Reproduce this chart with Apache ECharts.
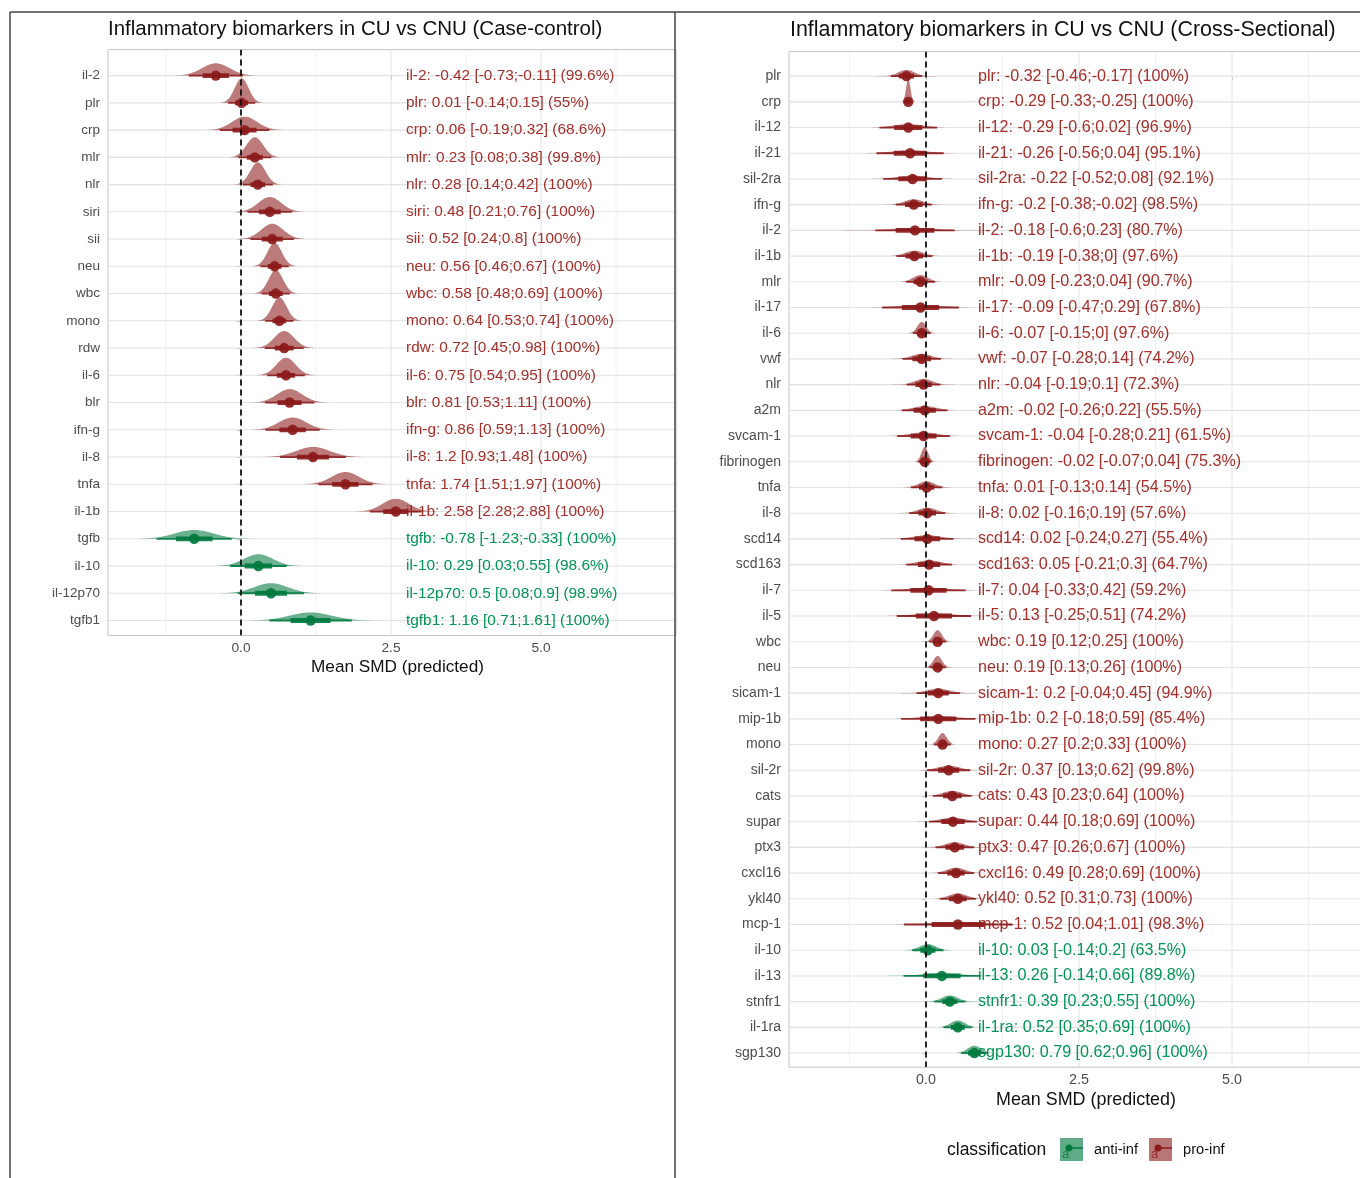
<!DOCTYPE html>
<html><head><meta charset="utf-8">
<script src="https://cdn.jsdelivr.net/npm/echarts@6/dist/echarts.min.js"></script>
<style>html,body{margin:0;padding:0;background:#fff}#c{width:1360px;height:1178px}</style>
</head><body><div id="c"></div>
<script>
// ---------- Case-control panel ----------
const ccNames = ['il-2','plr','crp','mlr','nlr','siri','sii','neu','wbc','mono','rdw','il-6','blr','ifn-g','il-8','tnfa','il-1b','tgfb','il-10','il-12p70','tgfb1'];
const ccMean = [-0.42,0.01,0.06,0.23,0.28,0.48,0.52,0.56,0.58,0.64,0.72,0.75,0.81,0.86,1.2,1.74,2.58,-0.78,0.29,0.5,1.16];
const ccLo = [-0.73,-0.14,-0.19,0.08,0.14,0.21,0.24,0.46,0.48,0.53,0.45,0.54,0.53,0.59,0.93,1.51,2.28,-1.23,0.03,0.08,0.71];
const ccHi = [-0.11,0.15,0.32,0.38,0.42,0.76,0.8,0.67,0.69,0.74,0.98,0.95,1.11,1.13,1.48,1.97,2.88,-0.33,0.55,0.9,1.61];
const ccProb = [99.6,55,68.6,99.8,100,100,100,100,100,100,100,100,100,100,100,100,100,100,98.6,98.9,100];
const ccClass = ['pro','pro','pro','pro','pro','pro','pro','pro','pro','pro','pro','pro','pro','pro','pro','pro','pro','anti','anti','anti','anti'];
// spread of the predicted distribution, read from the drawn slabs/intervals
const ccPredSd = [0.23,0.115,0.21,0.14,0.127,0.19,0.185,0.12,0.12,0.12,0.165,0.16,0.21,0.23,0.28,0.23,0.22,0.32,0.24,0.28,0.35];

// ---------- Cross-sectional panel ----------
const csNames = ['plr','crp','il-12','il-21','sil-2ra','ifn-g','il-2','il-1b','mlr','il-17','il-6','vwf','nlr','a2m','svcam-1','fibrinogen','tnfa','il-8','scd14','scd163','il-7','il-5','wbc','neu','sicam-1','mip-1b','mono','sil-2r','cats','supar','ptx3','cxcl16','ykl40','mcp-1','il-10','il-13','stnfr1','il-1ra','sgp130'];
const csMean = [-0.32,-0.29,-0.29,-0.26,-0.22,-0.2,-0.18,-0.19,-0.09,-0.09,-0.07,-0.07,-0.04,-0.02,-0.04,-0.02,0.01,0.02,0.02,0.05,0.04,0.13,0.19,0.19,0.2,0.2,0.27,0.37,0.43,0.44,0.47,0.49,0.52,0.52,0.03,0.26,0.39,0.52,0.79];
const csLo = [-0.46,-0.33,-0.6,-0.56,-0.52,-0.38,-0.6,-0.38,-0.23,-0.47,-0.15,-0.28,-0.19,-0.26,-0.28,-0.07,-0.13,-0.16,-0.24,-0.21,-0.33,-0.25,0.12,0.13,-0.04,-0.18,0.2,0.13,0.23,0.18,0.26,0.28,0.31,0.04,-0.14,-0.14,0.23,0.35,0.62];
const csHi = [-0.17,-0.25,0.02,0.04,0.08,-0.02,0.23,0,0.04,0.29,0,0.14,0.1,0.22,0.21,0.04,0.14,0.19,0.27,0.3,0.42,0.51,0.25,0.26,0.45,0.59,0.33,0.62,0.64,0.69,0.67,0.69,0.73,1.01,0.2,0.66,0.55,0.69,0.96];
const csProb = [100,100,96.9,95.1,92.1,98.5,80.7,97.6,90.7,67.8,97.6,74.2,72.3,55.5,61.5,75.3,54.5,57.6,55.4,64.7,59.2,74.2,100,100,94.9,85.4,100,99.8,100,100,100,100,100,98.3,63.5,89.8,100,100,100];
const csClass = ['pro','pro','pro','pro','pro','pro','pro','pro','pro','pro','pro','pro','pro','pro','pro','pro','pro','pro','pro','pro','pro','pro','pro','pro','pro','pro','pro','pro','pro','pro','pro','pro','pro','pro','anti','anti','anti','anti','anti'];
const csPredSd = [0.13,0.035,0.24,0.28,0.245,0.15,0.33,0.15,0.12,0.32,0.072,0.16,0.14,0.19,0.22,0.055,0.13,0.15,0.22,0.19,0.31,0.31,0.07,0.07,0.18,0.31,0.07,0.18,0.16,0.2,0.16,0.15,0.15,0.45,0.13,0.32,0.13,0.12,0.11];

// ---------- axes ----------
const xTickValues = [0, 2.5, 5];
const xMinorValues = [-1.25, 1.25, 3.75, 6.25];
const legendLabels = ['anti-inf', 'pro-inf'];
const titles = ['Inflammatory biomarkers in CU vs CNU (Case-control)', 'Inflammatory biomarkers in CU vs CNU (Cross-Sectional)'];
const xTitle = 'Mean SMD (predicted)';

const COL = { pro: '#8B1A1A', anti: '#00793F' };
const TXT = { pro: '#A3302B', anti: '#009456' };
const FONT = '"Liberation Sans", Arial, Helvetica, sans-serif';

const chart = echarts.init(document.getElementById('c'), null, { renderer: 'canvas' });

function fmt(v) { return String(v); }

function panelSeries(p, names, mean, lo, hi, prob, cls, sd, labelX, txtSize) {
  const rows = names.map((_, i) => i);
  const sdMin = Math.min.apply(null, sd);
  const series = [];
  series.push({
    type: 'custom', xAxisIndex: p, yAxisIndex: p, z: 1, silent: true, clip: true,
    data: xTickValues.map(v => [v, 1]).concat(xMinorValues.map(v => [v, 0])),
    renderItem: function (params, api) {
      const cs = params.coordSys;
      const x = api.coord([api.value(0), 0])[0];
      const major = api.value(1) === 1;
      return { type: 'line', shape: { x1: x, y1: cs.y, x2: x, y2: cs.y + cs.height },
        style: { stroke: major ? '#e6e6e6' : '#eeeeee', lineWidth: major ? 1.1 : 0.9 } };
    }
  });
  series.push({
    type: 'custom', xAxisIndex: p, yAxisIndex: p, z: 1, silent: true, clip: true,
    data: rows.map(i => [0, i]),
    renderItem: function (params, api) {
      const cs = params.coordSys;
      const y = api.coord([0, api.value(1)])[1];
      return { type: 'line', shape: { x1: cs.x, y1: y, x2: cs.x + cs.width, y2: y },
        style: { stroke: '#e2e2e2', lineWidth: 1.1 } };
    }
  });
  series.push({
    type: 'custom', xAxisIndex: p, yAxisIndex: p, z: 2, silent: true, clip: false,
    data: rows.map(i => [labelX, i]),
    renderItem: function (params, api) {
      const i = params.dataIndex;
      const pt = api.coord([api.value(0), api.value(1)]);
      return { type: 'text', x: pt[0], y: pt[1],
        style: { text: names[i] + ': ' + fmt(mean[i]) + ' [' + fmt(lo[i]) + ';' + fmt(hi[i]) + '] (' + fmt(prob[i]) + '%)',
          fill: TXT[cls[i]], fontSize: txtSize, fontFamily: FONT, align: 'left', verticalAlign: 'middle' } };
    }
  });
  series.push({
    type: 'custom', xAxisIndex: p, yAxisIndex: p, z: 3, silent: true, clip: true,
    data: rows.map(i => [mean[i], i, sd[i]]),
    renderItem: function (params, api) {
      const i = params.dataIndex;
      const m = api.value(0), r = api.value(1), s = api.value(2);
      const col = COL[cls[i]];
      const hMax = 0.9 * sdMin / s;
      const N = 90, pts = [];
      for (let k = 0; k <= N; k++) {
        const z = -3.6 + 7.2 * k / N;
        pts.push(api.coord([m + z * s, r - hMax * Math.exp(-z * z / 2)]));
      }
      pts.push(api.coord([m + 3.6 * s, r]));
      pts.push(api.coord([m - 3.6 * s, r]));
      const c = api.coord([m, r]);
      const a95 = api.coord([m - 1.96 * s, r]), b95 = api.coord([m + 1.96 * s, r]);
      const a66 = api.coord([m - 0.954 * s, r]), b66 = api.coord([m + 0.954 * s, r]);
      return { type: 'group', children: [
        { type: 'polygon', shape: { points: pts }, style: { fill: col, opacity: 0.58 } },
        { type: 'line', shape: { x1: a95[0], y1: c[1], x2: b95[0], y2: c[1] }, style: { stroke: col, lineWidth: 1.8, opacity: 0.9 } },
        { type: 'line', shape: { x1: a66[0], y1: c[1], x2: b66[0], y2: c[1] }, style: { stroke: col, lineWidth: 4.8, opacity: 0.9 } },
        { type: 'circle', shape: { cx: c[0], cy: c[1], r: 5.2 }, style: { fill: col, opacity: 0.92 } }
      ] };
    }
  });
  series.push({
    type: 'custom', xAxisIndex: p, yAxisIndex: p, z: 4, silent: true, clip: true,
    data: [[0, 0]],
    renderItem: function (params, api) {
      const cs = params.coordSys;
      const x = api.coord([api.value(0), 0])[0];
      return { type: 'line', shape: { x1: x, y1: cs.y, x2: x, y2: cs.y + cs.height },
        style: { stroke: '#111', lineWidth: 1.8, lineDash: [6, 4] } };
    }
  });
  return series;
}

function xAxisCfg(p, min, max, fs) {
  return { gridIndex: p, type: 'value', min: min, max: max,
    axisLine: { show: false },
    axisTick: { show: true, customValues: xTickValues, length: 4, lineStyle: { color: '#b3b3b3', width: 1 } },
    axisLabel: { customValues: xTickValues, formatter: v => Number(v).toFixed(1), color: '#4d4d4d', fontSize: fs, fontFamily: FONT, margin: 6 },
    splitLine: { show: false } };
}
function yAxisCfg(p, names, min, max, fs) {
  const rows = names.map((_, i) => i);
  return { gridIndex: p, type: 'value', inverse: true, min: min, max: max,
    axisLine: { show: false },
    axisTick: { show: true, customValues: rows, length: 4, lineStyle: { color: '#b3b3b3', width: 1 } },
    axisLabel: { customValues: rows, formatter: v => names[Math.round(v)], color: '#4d4d4d', fontSize: fs, fontFamily: FONT, margin: 8 },
    splitLine: { show: false } };
}

const ccRows = ccNames.length, csRows = csNames.length;
const option = {
  animation: false,
  backgroundColor: '#fff',
  grid: [
    { left: 108, top: 49.6, width: 568, height: 585.9, show: true, borderColor: '#c4c4c4', borderWidth: 1, backgroundColor: 'transparent', outerBoundsMode: 'none', containLabel: false },
    { left: 789, top: 51.6, width: 594, height: 1015.6, show: true, borderColor: '#c4c4c4', borderWidth: 1, backgroundColor: 'transparent', outerBoundsMode: 'none', containLabel: false }
  ],
  xAxis: [ xAxisCfg(0, -2.2167, 7.25, 13.7), xAxisCfg(1, -2.2386, 7.467, 14.3) ],
  yAxis: [ yAxisCfg(0, ccNames, -0.954, ccRows - 0.45, 13.5), yAxisCfg(1, csNames, -0.954, csRows - 0.45, 14) ],
  series: [].concat(
    panelSeries(0, ccNames, ccMean, ccLo, ccHi, ccProb, ccClass, ccPredSd, 2.75, 15.4),
    panelSeries(1, csNames, csMean, csLo, csHi, csProb, csClass, csPredSd, 0.85, 16.1)
  ),
  graphic: [
    { type: 'line', shape: { x1: 10, y1: 12, x2: 1360, y2: 12 }, style: { stroke: '#444', lineWidth: 1.5 }, z: 100 },
    { type: 'line', shape: { x1: 10, y1: 12, x2: 10, y2: 1178 }, style: { stroke: '#444', lineWidth: 1.5 }, z: 100 },
    { type: 'line', shape: { x1: 675, y1: 12, x2: 675, y2: 1178 }, style: { stroke: '#444', lineWidth: 1.5 }, z: 100 },
    { type: 'text', x: 108, y: 29.5, style: { text: titles[0], fill: '#111', fontSize: 20.5, fontFamily: FONT, align: 'left', verticalAlign: 'middle' }, z: 100 },
    { type: 'text', x: 790, y: 30, style: { text: titles[1], fill: '#111', fontSize: 21.4, fontFamily: FONT, align: 'left', verticalAlign: 'middle' }, z: 100 },
    { type: 'text', x: 397.5, y: 667, style: { text: xTitle, fill: '#111', fontSize: 17.2, fontFamily: FONT, align: 'center', verticalAlign: 'middle' }, z: 100 },
    { type: 'text', x: 1086, y: 1100, style: { text: xTitle, fill: '#111', fontSize: 17.9, fontFamily: FONT, align: 'center', verticalAlign: 'middle' }, z: 100 },
    { type: 'text', x: 947, y: 1150, style: { text: 'classification', fill: '#111', fontSize: 17.5, fontFamily: FONT, align: 'left', verticalAlign: 'middle' }, z: 100 },
    { type: 'group', x: 1060, y: 1138, z: 100, children: [
      { type: 'rect', shape: { x: 0, y: 0, width: 23, height: 23 }, style: { fill: COL.anti, opacity: 0.62 } },
      { type: 'line', shape: { x1: 9, y1: 10, x2: 23, y2: 10 }, style: { stroke: COL.anti, lineWidth: 1.5 } },
      { type: 'circle', shape: { cx: 9, cy: 10, r: 3.5 }, style: { fill: COL.anti } },
      { type: 'text', x: 2, y: 16, style: { text: 'a', fill: COL.anti, fontSize: 13, fontFamily: FONT, verticalAlign: 'middle', opacity: 0.8 } }
    ] },
    { type: 'text', x: 1094, y: 1150, style: { text: legendLabels[0], fill: '#111', fontSize: 14.7, fontFamily: FONT, align: 'left', verticalAlign: 'middle' }, z: 100 },
    { type: 'group', x: 1149, y: 1138, z: 100, children: [
      { type: 'rect', shape: { x: 0, y: 0, width: 23, height: 23 }, style: { fill: COL.pro, opacity: 0.6 } },
      { type: 'line', shape: { x1: 9, y1: 10, x2: 23, y2: 10 }, style: { stroke: COL.pro, lineWidth: 1.5 } },
      { type: 'circle', shape: { cx: 9, cy: 10, r: 3.5 }, style: { fill: COL.pro } },
      { type: 'text', x: 2, y: 16, style: { text: 'a', fill: COL.pro, fontSize: 13, fontFamily: FONT, verticalAlign: 'middle', opacity: 0.8 } }
    ] },
    { type: 'text', x: 1183, y: 1150, style: { text: legendLabels[1], fill: '#111', fontSize: 14.7, fontFamily: FONT, align: 'left', verticalAlign: 'middle' }, z: 100 }
  ]
};
chart.setOption(option);
</script></body></html>
